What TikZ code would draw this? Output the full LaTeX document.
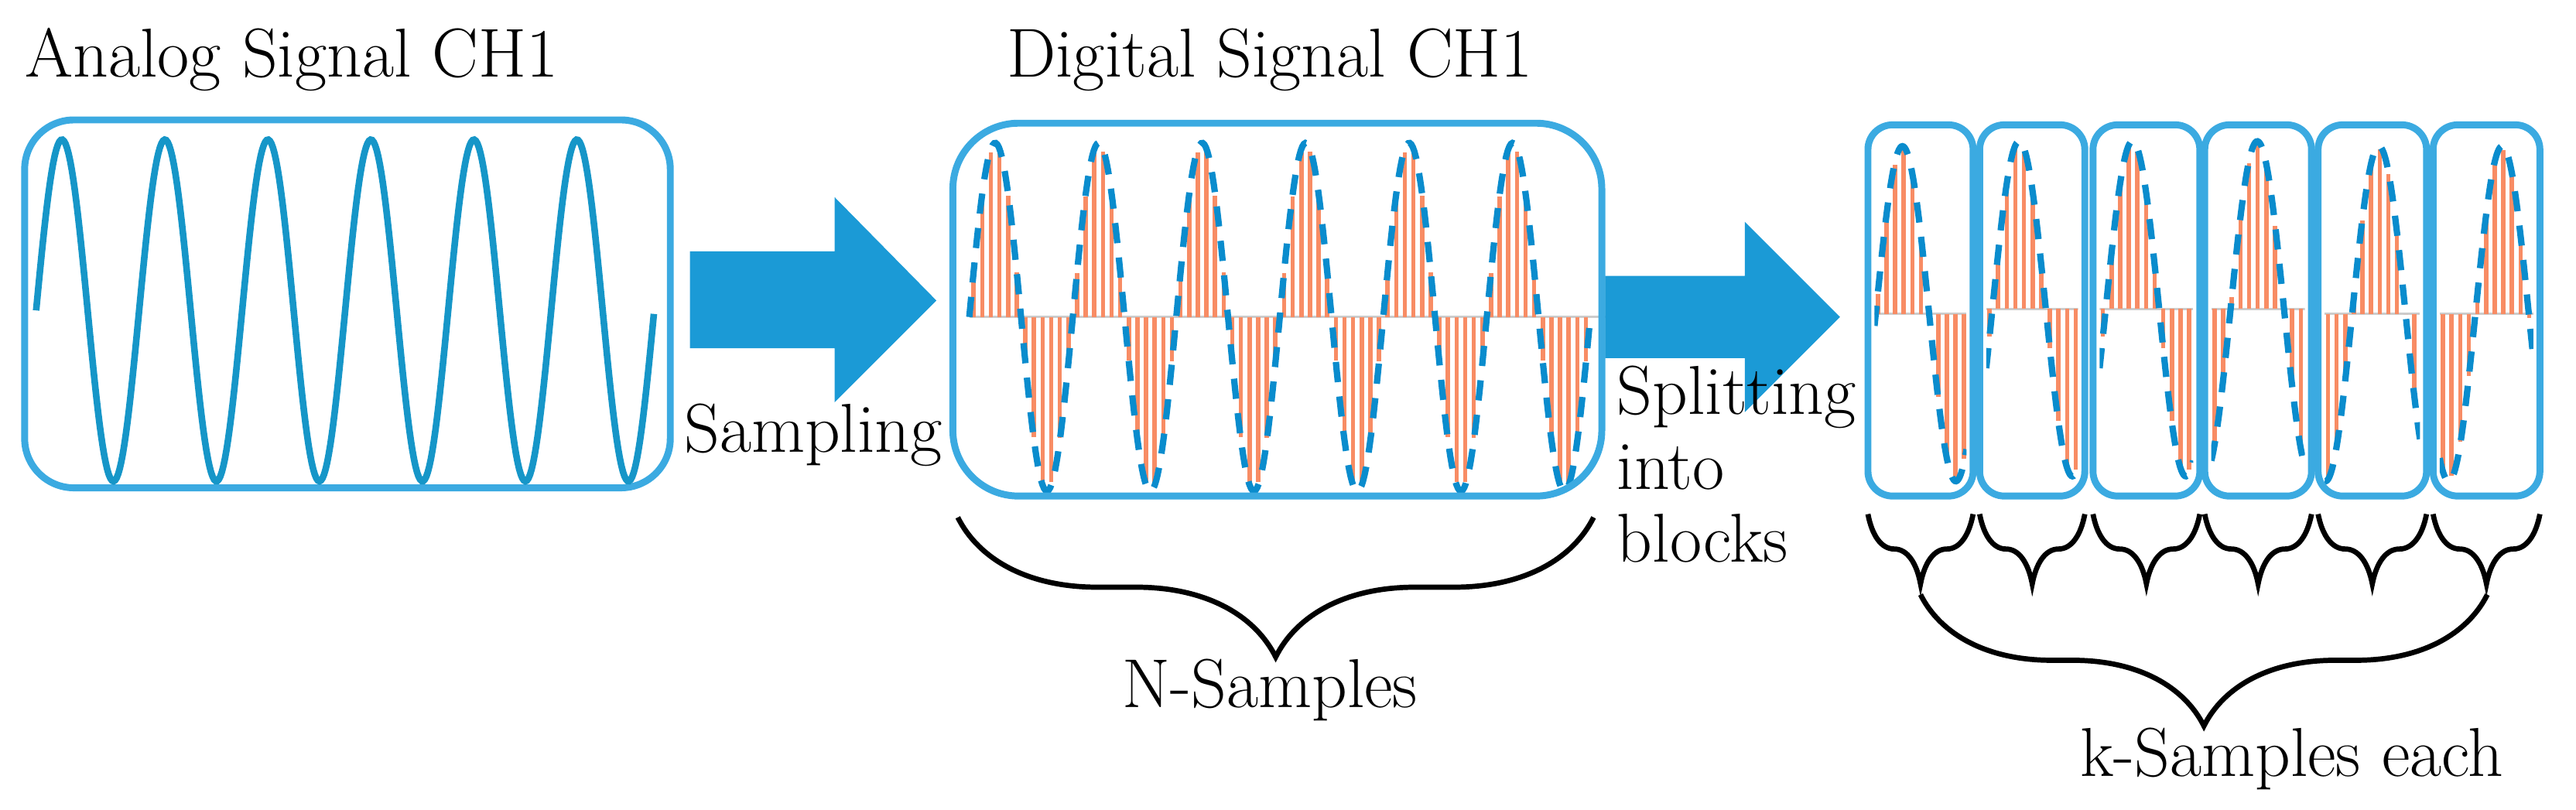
\documentclass[tikz,border=0pt]{standalone}
\usetikzlibrary{decorations.pathreplacing}
\definecolor{boxblue}{RGB}{59,170,225}
\definecolor{arrblue}{RGB}{27,154,214}
\definecolor{wave}{RGB}{22,150,200}
\definecolor{dash}{RGB}{10,140,205}
\definecolor{stem}{RGB}{248,140,100}
\begin{document}
\begin{tikzpicture}[x=0.02cm,y=-0.02cm,
  box/.style={draw=boxblue,line width=2.4pt},
  lbl/.style={font=\fontsize{24}{29}\selectfont,inner sep=0pt},
  brc/.style={decorate,decoration={brace,mirror,amplitude=#1},line width=1.8pt},
  stm/.style={draw=stem,line width=1.5pt},
  dsh/.style={draw=dash,line width=2.2pt,dash pattern=on 7pt off 5pt}]
\useasboundingbox (0,0) rectangle (1568,492.7);
% titles
\node[lbl,anchor=base west] (t1) at (15,47) {Analog Signal CH1};
\node[lbl,anchor=base] (t2) at (773,47) {Digital Signal CH1};
% analog
\draw[box,rounded corners=0.6cm] (15,73) rectangle (408,297);
\draw[wave,line width=2.3pt] plot[domain=22:398,samples=400] (\x,{189-104*sin(5.7416*(\x-22))});
% arrow 1
\fill[arrblue] (420,153) -- (508,153) -- (508,120) -- (570,183) -- (508,245) -- (508,212) -- (420,212) -- cycle;
\node[lbl] (s1) at (495,265) {Sampling};
% digital
\draw[gray!40,line width=0.8pt] (590,193) -- (992,193);
\foreach \k in {0,...,71}{
  \pgfmathsetmacro{\xx}{592.6+\k*5.25}
  \pgfmathsetmacro{\yy}{193-104*sin(5.7143*(\xx-590))}
  \draw[stm] (\xx,193) -- (\xx,\yy);
}
\draw[dsh] plot[domain=590:968,samples=400] (\x,{193-106*sin(5.7143*(\x-590))});
\draw[box,rounded corners=0.8cm] (580,75) rectangle (975,302);
% arrow 2
\fill[arrblue] (977,168) -- (1062,168) -- (1062,135) -- (1120,193) -- (1062,251) -- (1062,218) -- (977,218) -- cycle;
\node[lbl,anchor=base west] (s2) at (984,252) {Splitting};
\node[lbl,anchor=base west] (s3) at (984,298) {into};
\node[lbl,anchor=base west] (s4) at (984,342) {blocks};
% blocks
\foreach \L/\R/\P/\c in {1137/1201/1158/191,1205/1269/1229/188,1274/1339/1298/188,1342/1407/1374/188,1411/1477/1448/191,1481/1546/1523/191}{
  \begin{scope}
  \clip (\L+4,80) rectangle (\R-4,300);
  \draw[gray!40,line width=0.8pt] (\L+4,\c) -- (\R-4,\c);
  \foreach \k in {0,...,11}{
    \pgfmathsetmacro{\xx}{\L+6+\k*5.25}
    \pgfmathsetmacro{\yy}{\c-100*sin(5.5385*(\xx-\P+16.25))}
    \draw[stm] (\xx,\c) -- (\xx,\yy);
  }
  \draw[dsh] plot[domain=\L+4:\R-4,samples=80] (\x,{\c-102*sin(5.5385*(\x-\P+16.25))});
  \end{scope}
  \draw[box,rounded corners=0.3cm] (\L,76) rectangle (\R,302);
  \draw[brc=0.85cm] (\L,313) -- (\R,313);
}
% braces
\draw[brc=1.7cm] (583,315) -- (970,315);
\node[lbl] (n) at (773,420) {N-Samples};
\draw[brc=1.6cm] (1169,362) -- (1514,362);
\node[lbl] (k) at (1395,462) {k-Samples each};
\end{tikzpicture}
\end{document}
